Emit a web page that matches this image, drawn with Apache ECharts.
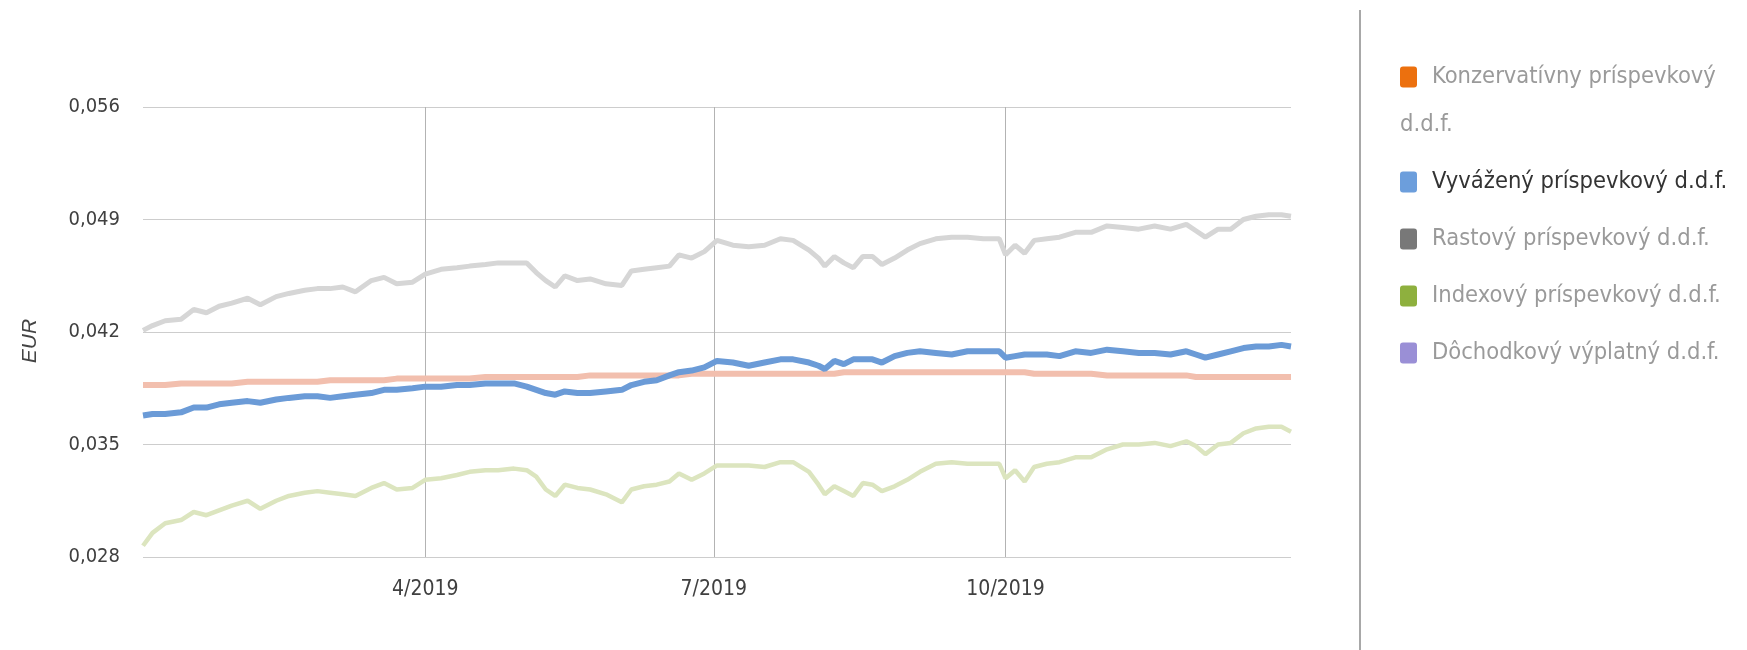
<!DOCTYPE html>
<html>
<head>
<meta charset="utf-8">
<script src="https://cdn.jsdelivr.net/npm/echarts@6/dist/echarts.min.js"></script>
<style>
html,body{margin:0;padding:0;background:#ffffff;}
#chart{width:1747px;height:650px;}
</style>
</head>
<body>
<div id="chart"></div>
<script>
// ---- data ----
const dates = [
'2019-01-02','2019-01-05','2019-01-09','2019-01-14','2019-01-18','2019-01-22','2019-01-26','2019-01-30',
'2019-02-04','2019-02-08','2019-02-13','2019-02-17','2019-02-22','2019-02-26',
'2019-03-02','2019-03-06','2019-03-10','2019-03-15','2019-03-19','2019-03-23','2019-03-28',
'2019-04-01','2019-04-06','2019-04-11','2019-04-15','2019-04-20','2019-04-24','2019-04-29',
'2019-05-03','2019-05-06','2019-05-09','2019-05-12','2019-05-15','2019-05-19','2019-05-23','2019-05-28',
'2019-06-02','2019-06-05','2019-06-09','2019-06-13','2019-06-17','2019-06-20','2019-06-24','2019-06-28',
'2019-07-02','2019-07-07','2019-07-12','2019-07-17','2019-07-22','2019-07-26','2019-07-31',
'2019-08-03','2019-08-05','2019-08-08','2019-08-11','2019-08-14','2019-08-17','2019-08-20','2019-08-23','2019-08-27','2019-08-31',
'2019-09-04','2019-09-09','2019-09-14','2019-09-19','2019-09-24','2019-09-29',
'2019-10-01','2019-10-04','2019-10-07','2019-10-10','2019-10-14','2019-10-18','2019-10-23','2019-10-28',
'2019-11-02','2019-11-07','2019-11-12','2019-11-17','2019-11-22','2019-11-27','2019-11-30',
'2019-12-03','2019-12-07','2019-12-11','2019-12-15','2019-12-19','2019-12-23','2019-12-27','2019-12-30'
];

const konzervativny = [
.0387,.0387,.0387,.0388,.0388,.0388,.0388,.0388,
.0389,.0389,.0389,.0389,.0389,.0389,
.0390,.0390,.0390,.0390,.0390,.0391,.0391,
.0391,.0391,.0391,.0391,.0392,.0392,.0392,
.0392,.0392,.0392,.0392,.0392,.0392,.0393,.0393,
.0393,.0393,.0393,.0393,.0393,.0393,.0394,.0394,
.0394,.0394,.0394,.0394,.0394,.0394,.0394,
.0394,.0394,.0394,.0395,.0395,.0395,.0395,.0395,.0395,.0395,
.0395,.0395,.0395,.0395,.0395,.0395,
.0395,.0395,.0395,.0394,.0394,.0394,.0394,.0394,
.0393,.0393,.0393,.0393,.0393,.0393,.0392,
.0392,.0392,.0392,.0392,.0392,.0392,.0392,.0392
];

const vyvazeny = [
.0368,.0369,.0369,.0370,.0373,.0373,.0375,.0376,
.0377,.0376,.0378,.0379,.0380,.0380,
.0379,.0380,.0381,.0382,.0384,.0384,.0385,
.0386,.0386,.0387,.0387,.0388,.0388,.0388,
.0386,.0384,.0382,.0381,.0383,.0382,.0382,.0383,
.0384,.0387,.0389,.0390,.0393,.0395,.0396,.0398,
.0402,.0401,.0399,.0401,.0403,.0403,.0401,
.0399,.0397,.0402,.0400,.0403,.0403,.0403,.0401,.0405,.0407,
.0408,.0407,.0406,.0408,.0408,.0408,
.0404,.0405,.0406,.0406,.0406,.0405,.0408,.0407,
.0409,.0408,.0407,.0407,.0406,.0408,.0406,
.0404,.0406,.0408,.0410,.0411,.0411,.0412,.0411
];

const rastovy = [
.0421,.0424,.0427,.0428,.0434,.0432,.0436,.0438,
.0441,.0437,.0442,.0444,.0446,.0447,
.0447,.0448,.0445,.0452,.0454,.0450,.0451,
.0456,.0459,.0460,.0461,.0462,.0463,.0463,
.0463,.0457,.0452,.0448,.0455,.0452,.0453,.0450,
.0449,.0458,.0459,.0460,.0461,.0468,.0466,.0470,
.0477,.0474,.0473,.0474,.0478,.0477,.0471,
.0466,.0461,.0467,.0463,.0460,.0467,.0467,.0462,.0466,.0471,
.0475,.0478,.0479,.0479,.0478,.0478,
.0468,.0474,.0469,.0477,.0478,.0479,.0482,.0482,
.0486,.0485,.0484,.0486,.0484,.0487,.0483,
.0479,.0484,.0484,.0490,.0492,.0493,.0493,.0492
];

const indexovy = [
.0287,.0295,.0301,.0303,.0308,.0306,.0309,.0312,
.0315,.0310,.0315,.0318,.0320,.0321,
.0320,.0319,.0318,.0323,.0326,.0322,.0323,
.0328,.0329,.0331,.0333,.0334,.0334,.0335,
.0334,.0330,.0322,.0318,.0325,.0323,.0322,.0319,
.0314,.0322,.0324,.0325,.0327,.0332,.0328,.0332,
.0337,.0337,.0337,.0336,.0339,.0339,.0333,
.0325,.0319,.0324,.0321,.0318,.0326,.0325,.0321,.0324,.0328,
.0333,.0338,.0339,.0338,.0338,.0338,
.0329,.0334,.0327,.0336,.0338,.0339,.0342,.0342,
.0347,.0350,.0350,.0351,.0349,.0352,.0349,
.0344,.0350,.0351,.0357,.0360,.0361,.0361,.0358
];

const dochodkovy = []; // no visible line in the reference

const seriesNames = [
'Konzervatívny príspevkový d.d.f.',
'Vyvážený príspevkový d.d.f.',
'Rastový príspevkový d.d.f.',
'Indexový príspevkový d.d.f.',
'Dôchodkový výplatný d.d.f.'
];
const seriesValues = [konzervativny, vyvazeny, rastovy, indexovy, dochodkovy];

const yMin = 0.028, yMax = 0.056, yStep = 0.007;
const xTickDates = ['2019-04-01','2019-07-01','2019-10-01'];

// ---- styling ----
const legendColors = ['#ec700e','#6c9edc','#787878','#8eb03e','#9a8fd6'];
const lineColors  = ['#f2bfae','#6b9bd7','#d6d6d6','#dce5bf','#d6d0f0'];
const lineWidths  = [6, 6, 5, 4.5, 4];
const legendTextColors = ['#9a9a9a','#333333','#9a9a9a','#9a9a9a','#9a9a9a'];
const NARROW = '"Liberation Sans Narrow","Arial Narrow","DejaVu Sans Condensed",sans-serif';

function toTs(s){ const p = s.split('-').map(Number); return new Date(p[0], p[1]-1, p[2]).getTime(); }
const xTickValues = xTickDates.map(toTs);

const rich = { g: { width: 15 } };
legendColors.forEach((c, i) => {
  rich['m' + i] = { width: 17, height: 21, backgroundColor: c, borderRadius: 3 };
});

const chart = echarts.init(document.getElementById('chart'), null, { renderer: 'canvas' });

const series = seriesNames.map((name, i) => ({
  name: name,
  type: 'line',
  data: seriesValues[i].map((v, k) => [toTs(dates[k]), v]),
  showSymbol: false,
  symbol: 'none',
  z: i === 1 ? 5 : 2,
  itemStyle: { color: legendColors[i] },
  lineStyle: { color: lineColors[i], width: lineWidths[i] },
  emphasis: { disabled: true },
  animation: false
}));

chart.setOption({
  animation: false,
  backgroundColor: '#ffffff',
  grid: { left: 143, right: 456, top: 107, bottom: 93, containLabel: false },
  xAxis: {
    type: 'value',
    min: toTs(dates[0]),
    max: toTs(dates[dates.length - 1]),
    axisLine: { show: false },
    axisTick: { show: false, customValues: xTickValues },
    axisLabel: {
      customValues: xTickValues,
      formatter: function (v) { const d = new Date(v); return (d.getMonth() + 1) + '/' + d.getFullYear(); },
      color: '#404040',
      fontFamily: NARROW,
      fontSize: 21,
      margin: 22
    },
    splitLine: { show: true, lineStyle: { color: '#b3b3b3', width: 1 } }
  },
  yAxis: {
    type: 'value',
    min: yMin, max: yMax, interval: yStep,
    name: 'EUR',
    nameLocation: 'middle',
    nameGap: 102,
    nameTextStyle: { fontStyle: 'italic', fontSize: 21, color: '#444444', fontFamily: '"Liberation Sans",Arial,sans-serif', padding: [0, 18, 0, 0] },
    axisLine: { show: false },
    axisTick: { show: false },
    axisLabel: {
      formatter: function (v) { return v.toFixed(3).replace('.', ','); },
      color: '#404040',
      fontFamily: NARROW,
      fontSize: 20,
      margin: 23
    },
    splitLine: { show: true, lineStyle: { color: '#cdcdcd', width: 1 } }
  },
  legend: {
    orient: 'vertical',
    left: 1395,
    top: 53,
    padding: 0,
    itemGap: 9,
    itemWidth: 0,
    itemHeight: 20,
    icon: 'rect',
    selectedMode: false,
    data: seriesNames.map((n, i) => ({ name: n, textStyle: { color: legendTextColors[i] } })),
    formatter: function (name) {
      const i = seriesNames.indexOf(name);
      const label = i === 0 ? 'Konzervatívny príspevkový\nd.d.f.' : name;
      return '{m' + i + '| }{g| }' + label;
    },
    textStyle: {
      fontFamily: NARROW,
      fontSize: 23.5,
      lineHeight: 48,
      color: '#9a9a9a',
      rich: rich
    }
  },
  graphic: [{
    type: 'line',
    shape: { x1: 1360, y1: 10, x2: 1360, y2: 650 },
    style: { stroke: '#a8a8a8', lineWidth: 2 },
    silent: true
  }],
  series: series
});
</script>
</body>
</html>
